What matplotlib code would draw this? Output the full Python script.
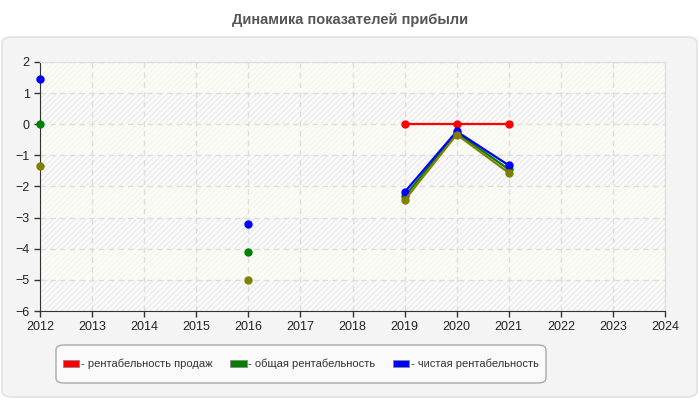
import numpy as np
import matplotlib
matplotlib.use("Agg")
import matplotlib.pyplot as plt
from matplotlib.patches import FancyBboxPatch, Patch

plt.rcParams['font.family'] = ['Liberation Sans', 'DejaVu Sans']
plt.rcParams['hatch.linewidth'] = 0.8

nan = np.nan
years = list(range(2012, 2025))
sales = [nan, nan, nan, nan, nan, nan, nan, 0.0, 0.0, 0.0, nan, nan, nan]
total = [0.0, nan, nan, nan, -4.1, nan, nan, -2.32, -0.27, -1.45, nan, nan, nan]
net = [1.45, nan, nan, nan, -3.21, nan, nan, -2.18, -0.23, -1.32, nan, nan, nan]
other = [-1.35, nan, nan, nan, -5.0, nan, nan, -2.44, -0.33, -1.56, nan, nan, nan]
labels = ["- рентабельность продаж", "- общая рентабельность", "- чистая рентабельность"]
colors = ["#ff0000", "#008000", "#0000ff"]
other_color = "#808000"
title = "Динамика показателей прибыли"

W, H = 700, 400
fig = plt.figure(figsize=(7, 4), dpi=100)
fig.patch.set_facecolor("white")

def fbox(x0, y0, x1, y1):
    # pixel coords (top-left origin) -> figure fraction rect
    return (x0 / W, 1 - y1 / H), (x1 - x0) / W, (y1 - y0) / H

xy, w, h = fbox(2, 37, 697, 397)
panel = FancyBboxPatch(xy, w, h, boxstyle="round,pad=0,rounding_size=0.015",
                       transform=fig.transFigure, facecolor="#f4f4f4",
                       edgecolor="#e2e2e2", linewidth=1.2, zorder=-10)
fig.patches.append(panel)

xy, w, h = fbox(56, 345, 546, 383)
lbox = FancyBboxPatch(xy, w, h, boxstyle="round,pad=0,rounding_size=0.012",
                      transform=fig.transFigure, facecolor="#fafafa",
                      edgecolor="#aaaaaa", linewidth=1.0, zorder=-5)
fig.patches.append(lbox)

fig.text(0.5, 1 - 20 / H, title, ha="center", va="center",
         fontsize=10.5, fontweight="bold", color="#555555")

ax = fig.add_axes([40 / W, 1 - 311 / H, 625 / W, 249 / H])
ax.set_facecolor("#fdfdf8")
ax.set_xlim(2012, 2024)
ax.set_ylim(-6, 2)

for i, lo in enumerate(range(-6, 2)):
    if i % 2 == 0:
        ax.axhspan(lo, lo + 1, facecolor="#fbfbfb", edgecolor="#e8e8e8",
                   hatch="//////", linewidth=0, zorder=0)
    else:
        ax.axhspan(lo, lo + 1, facecolor="#fdfdf7", edgecolor="#f3f3ee",
                   hatch="//////", linewidth=0, zorder=0)

ax.set_xticks(years)
ax.set_yticks(range(-6, 3))
ax.grid(True, color="#dddddd", linestyle=(0, (4, 3)), linewidth=1)
ax.set_axisbelow(True)
for s in ["top", "right"]:
    ax.spines[s].set_color("#dddddd")
for s in ["left", "bottom"]:
    ax.spines[s].set_color("#333333")
ax.tick_params(axis="both", colors="#333333", labelsize=9, length=4, width=1,
               labelcolor="#222222")

series = [(sales, colors[0]), (total, colors[1]), (net, colors[2]), (other, other_color)]
for vals, c in series:
    ax.plot(years, vals, color=c, linewidth=1.6, marker="o", markersize=5,
            clip_on=False, zorder=3)

handles = [Patch(facecolor=c, edgecolor="#888888", linewidth=0.6) for c in colors]
leg = fig.legend(handles, labels, loc="center", bbox_to_anchor=(301 / W, 1 - 364 / H),
                 ncol=3, fontsize=8, frameon=False, handlelength=1.45, handleheight=0.65,
                 handletextpad=0.15, columnspacing=1.6, borderpad=0.0)
for t in leg.get_texts():
    t.set_color("#333333")

fig.savefig("out.png", dpi=100, facecolor=fig.get_facecolor())
